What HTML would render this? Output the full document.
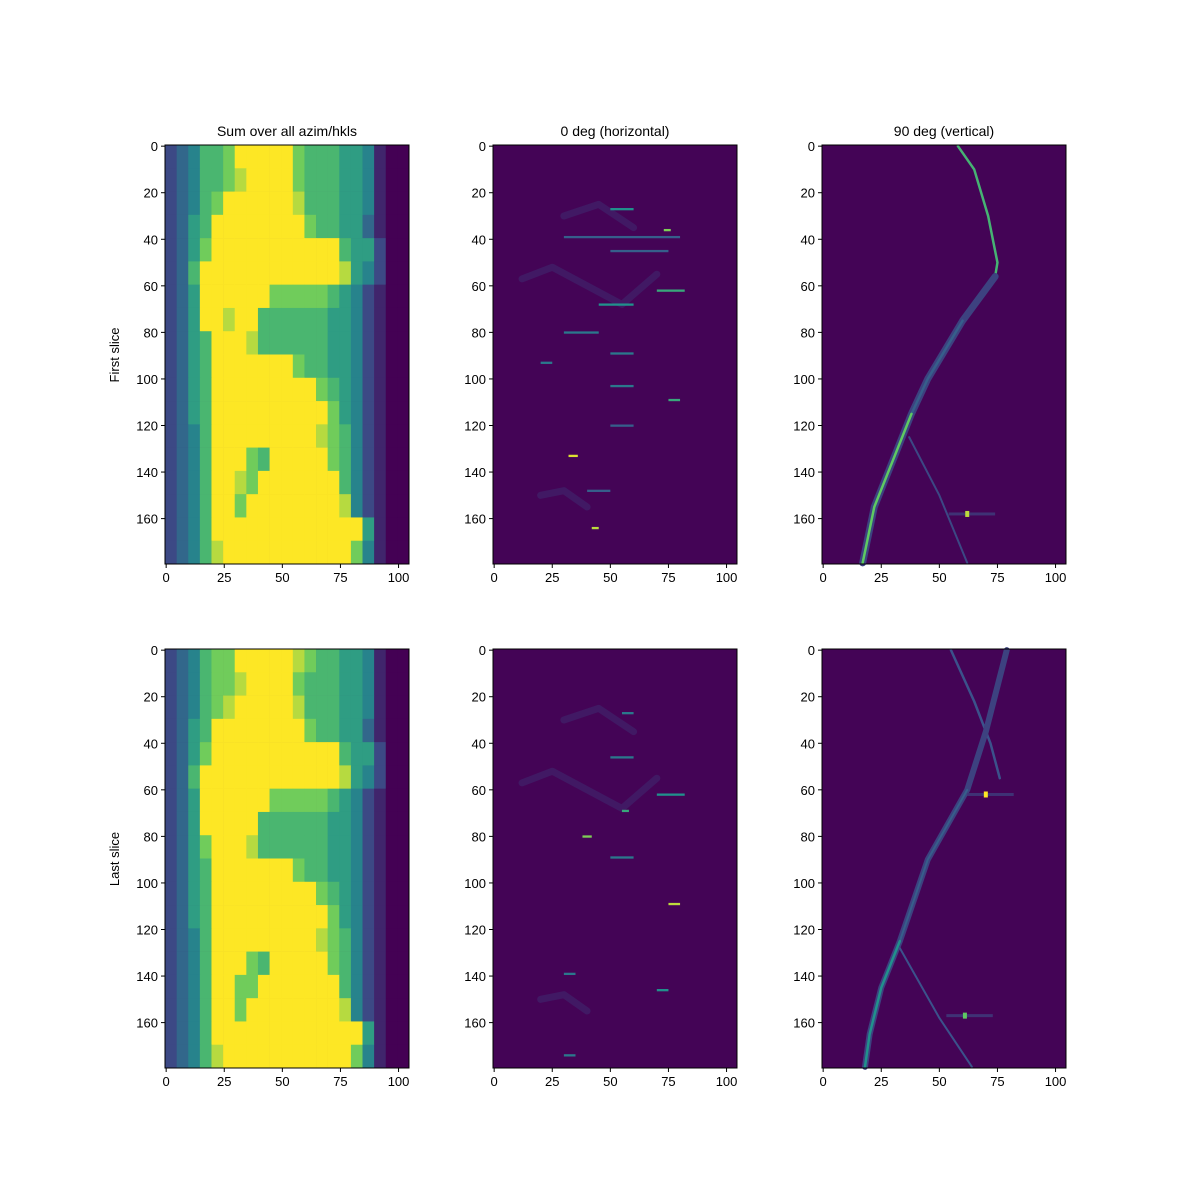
<!DOCTYPE html>
<html><head><meta charset="utf-8">
<style>
html,body{margin:0;padding:0;background:#fff;}
svg{display:block;font-family:"Liberation Sans","DejaVu Sans",sans-serif;}
</style></head>
<body>
<svg id="fig" width="1200" height="1200" viewBox="0 0 1200 1200" xmlns="http://www.w3.org/2000/svg">
<rect width="1200" height="1200" fill="#fff"/>
<text x="287" y="136" font-size="14" text-anchor="middle">Sum over all azim/hkls</text>
<text x="615" y="136" font-size="14" text-anchor="middle">0 deg (horizontal)</text>
<text x="944" y="136" font-size="14" text-anchor="middle">90 deg (vertical)</text>
<text transform="translate(119,355) rotate(-90)" font-size="13" text-anchor="middle">First slice</text>
<text transform="translate(119,859) rotate(-90)" font-size="13" text-anchor="middle">Last slice</text>
</svg>
<script>
// ---- data ----
const nCols = 105, nRows = 180;
const xTicks = [0,25,50,75,100];
const yTicks = [0,20,40,60,80,100,120,140,160];
// coarse grid (5 cols x 10 rows per cell), values 0-9
const sumFirst = [
"234667999997666554100","234667899997666554100","234679999998666554100","235699999999766553100",
"235799999999999655200","236999999999999854200","235999999777776542100","235998996666665542100",
"235699986666665542100","235699999997665542100","235699999999976542100","235699999999997542100",
"234699999999987642100","234699976999997642100","234699879999999642100","234699799999999842100",
"234699999999999995100","234689999999999974100"];
const sumLast = [
"234677999998766554100","234677899997666554100","234678999998666554100","235699999999766553100",
"235799999999999655200","236999999999999854200","235999999777776542100","235999996666665542100",
"235799986666665542100","235699999997665542100","235699999999976542100","235699999999997542100",
"234699999999987642100","234699976999997642100","234699779999999642100","234699799999999842100",
"234699999999999995100","234689999999999974100"];
// streaks: [row, colStart, colEnd, value]
const streaksFirst = [[27,50,60,0.5],[36,73,76,0.8],[39,30,80,0.3],[45,50,75,0.3],[62,70,82,0.6],[68,45,60,0.5],[80,30,45,0.4],[89,50,60,0.4],[93,20,25,0.4],[103,50,60,0.4],[109,75,80,0.6],[120,50,60,0.3],[133,32,36,0.95],[148,40,50,0.3],[164,42,45,0.9]];
const streaksLast = [[27,55,60,0.4],[46,50,60,0.4],[62,70,82,0.5],[69,55,58,0.6],[80,38,42,0.8],[89,50,60,0.4],[109,75,80,0.9],[139,30,35,0.4],[146,70,75,0.5],[174,30,35,0.4]];
// diffuse features [col,row] polylines
const hazeFirst = [[[12,57],[25,52],[40,60],[55,68],[70,55]],[[20,150],[30,148],[40,155]],[[30,30],[45,25],[60,35]]];
const hazeLast = [[[12,57],[25,52],[40,60],[55,68],[70,55]],[[20,150],[30,148],[40,155]],[[30,30],[45,25],[60,35]]];
// vertical panel curves [col,row]
const curvesFirst = [
 {pts:[[58,0],[65,10],[71,30],[75,50],[74,56]], v:0.65, w:2.5},
 {pts:[[74,56],[60,75],[45,100],[38,115],[30,135],[22,155],[17,179]], v:0.2, w:7},
 {pts:[[60,75],[45,100],[38,115]], v:0.3, w:2.5},
 {pts:[[38,115],[30,135],[22,155],[17,179]], v:0.75, w:2.5},
 {pts:[[37,125],[50,150],[62,179]], v:0.22, w:2}];
const curvesLast = [
 {pts:[[55,0],[65,22],[72,40],[76,55]], v:0.25, w:2.5},
 {pts:[[79,0],[70,35],[62,60],[45,90],[33,125],[25,145],[20,165],[18,179]], v:0.2, w:6},
 {pts:[[62,60],[45,90],[33,125]], v:0.3, w:2},
 {pts:[[33,125],[25,145],[20,165],[18,179]], v:0.5, w:2.5},
 {pts:[[33,128],[50,158],[64,179]], v:0.25, w:2}];
const spotsFirst = [[62,158,0.9]];
const spotsLast = [[70,62,1.0],[61,157,0.75]];

// ---- helpers ----
const NS = "http://www.w3.org/2000/svg";
const svg = document.getElementById('fig');
const stops = [[68,1,84],[59,82,139],[33,145,140],[94,201,98],[253,231,37]];
function viridis(v){v=Math.max(0,Math.min(1,v));const t=v*4,i=Math.min(3,Math.floor(t)),f=t-i;
 const a=stops[i],b=stops[i+1];return `rgb(${Math.round(a[0]+(b[0]-a[0])*f)},${Math.round(a[1]+(b[1]-a[1])*f)},${Math.round(a[2]+(b[2]-a[2])*f)})`;}
function mk(tag,attrs){const e=document.createElementNS(NS,tag);for(const k in attrs)e.setAttribute(k,attrs[k]);return e;}
const W=244, H=419;
function axes(left,top,name){
 const xs=d=>left+(d+0.5)/nCols*W, ys=r=>top+(r+0.5)/nRows*H;
 const g=mk('g',{});
 
 
 svg.appendChild(g);
 const bg=mk('rect',{x:left,y:top,width:W,height:H,fill:viridis(0.01)});
 
 
 g.appendChild(bg);
 return {g,xs,ys,left,top};
}
function frame(a){
 const {g,xs,ys,left,top}=a;
 const f=mk('rect',{x:left,y:top,width:W,height:H,fill:'none',stroke:'#000','stroke-width':1});
 
 
 g.appendChild(f);
 xTicks.forEach(t=>{const x=xs(t);
  const l=mk('line',{x1:x,x2:x,y1:top+H,y2:top+H+4,stroke:'#000'});
  
  
  g.appendChild(l);
  const tx=mk('text',{x:x,y:top+H+18,'font-size':13,'text-anchor':'middle'});tx.textContent=t;
  
  
  g.appendChild(tx);});
 yTicks.forEach(t=>{const y=ys(t);
  const l=mk('line',{x1:left-4,x2:left,y1:y,y2:y,stroke:'#000'});
  
  
  g.appendChild(l);
  const tx=mk('text',{x:left-7,y:y+5,'font-size':13,'text-anchor':'end'});tx.textContent=t;
  
  
  g.appendChild(tx);});
}
function drawGrid(a,grid){
 grid.forEach((row,ri)=>{for(let ci=0;ci<row.length;ci++){
  const v=+row[ci]/9, c0=ci*5, r0=ri*10;
  const x0=a.xs(c0-0.5), x1=a.xs(Math.min(nCols,c0+5)-0.5), y0=a.ys(r0-0.5), y1=a.ys(r0+10-0.5);
  const r=mk('rect',{x:x0,y:y0,width:x1-x0+0.3,height:y1-y0+0.3,fill:viridis(v)});
  
  
  a.g.appendChild(r);}});
}
function drawStreaks(a,list){list.forEach(s=>{
 const r=mk('rect',{x:a.xs(s[1]),y:a.ys(s[0])-1,width:a.xs(s[2])-a.xs(s[1]),height:2.3,fill:viridis(s[3])});
 
 
 a.g.appendChild(r);});}
function drawLines(a,list,def){list.forEach(c=>{
 const pts=(c.pts||c).map(p=>a.xs(p[0])+','+a.ys(p[1])).join(' ');
 const l=mk('polyline',{points:pts,fill:'none',stroke:viridis(c.v!==undefined?c.v:def.v),'stroke-width':c.w||def.w,'stroke-linecap':'round','stroke-linejoin':'round',opacity:def.o||1});
 
 
 a.g.appendChild(l);});}
function drawSpots(a,list){list.forEach(s=>{
 const h=mk('rect',{x:a.xs(s[0]-8),y:a.ys(s[1])-1.5,width:a.xs(s[0]+12)-a.xs(s[0]-8),height:3,fill:viridis(0.15)});
 
 
 a.g.appendChild(h);
 const c=mk('rect',{x:a.xs(s[0])-2,y:a.ys(s[1])-3,width:4,height:6,fill:viridis(s[2])});
 
 
 a.g.appendChild(c);});}

const lefts=[165,493,822], tops=[145,649];
[[sumFirst,streaksFirst,hazeFirst,curvesFirst,spotsFirst],[sumLast,streaksLast,hazeLast,curvesLast,spotsLast]].forEach((set,ri)=>{
 const a1=axes(lefts[0],tops[ri],'sum-panel-'+(ri?'last':'first'));
 drawGrid(a1,set[0]); frame(a1);
 const a2=axes(lefts[1],tops[ri],'horizontal-panel-'+(ri?'last':'first'));
 drawLines(a2,set[2],{v:0.12,w:7,o:0.6}); drawStreaks(a2,set[1]); frame(a2);
 const a3=axes(lefts[2],tops[ri],'vertical-panel-'+(ri?'last':'first'));
 drawLines(a3,set[3],{v:0.3,w:3}); drawSpots(a3,set[4]); frame(a3);
});
</script>
</body></html>
